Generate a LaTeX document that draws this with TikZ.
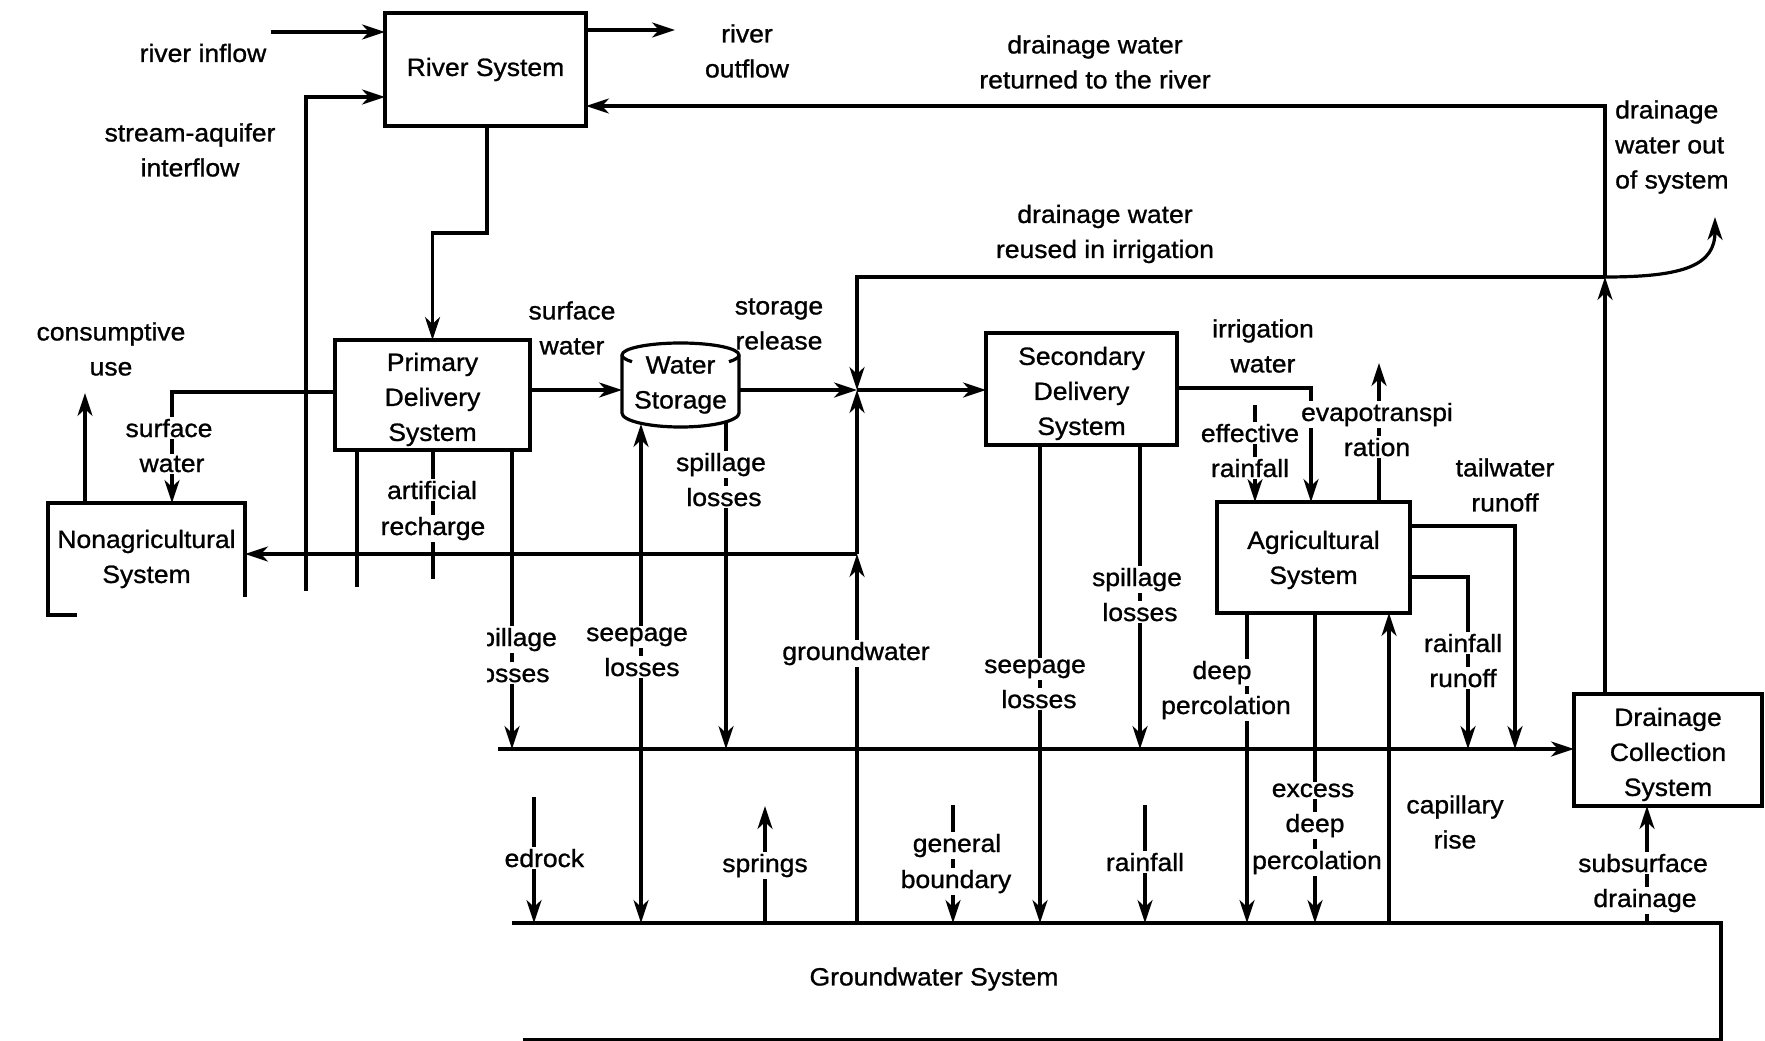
\documentclass[tikz,border=0pt]{standalone}
\usepackage{fontspec}
\setmainfont{Liberation Sans}[FakeStretch=1.06,FakeBold=1]
\usetikzlibrary{arrows.meta,calc}
\newcommand\labfont{\fontsize{25}{35}\selectfont}
\newcommand\tstrutA{\rule{0pt}{27pt}}
\newcommand\tstrutB{\rule{0pt}{23pt}}
\tikzset{
 ln/.style={line width=3.2pt},
 arr/.style={ln, -{Stealth[length=23pt,width=15pt,inset=7pt]}},
 dbl/.style={ln, {Stealth[length=23pt,width=15pt,inset=7pt]}-{Stealth[length=23pt,width=15pt,inset=7pt]}},
 box/.style={draw, line width=3.2pt, inner sep=0pt, outer sep=0pt, align=center, font=\labfont},
 lbl/.style={fill=white, inner sep=1.5pt, font=\labfont, anchor=base},
 txt/.style={inner sep=1pt, align=center, font=\labfont},
}
\begin{document}
\begin{tikzpicture}[x=1pt,y=-1pt]
\useasboundingbox (0,0) rectangle (1765,1041);
% ---------- boxes ----------
\node[box, minimum width=201pt, minimum height=113pt] (river) at (485.5,69.5) {River System};
\node[box, minimum width=195pt, minimum height=110pt] (primary) at (432.5,395) {\tstrutA Primary\\Delivery\\System};
\node[box, minimum width=191pt, minimum height=112pt] (secondary) at (1081.5,389) {\tstrutA Secondary\\Delivery\\System};
\node[box, minimum width=193pt, minimum height=111pt] (agri) at (1313.5,557.5) {\tstrutB Agricultural\\System};
\node[box, minimum width=188pt, minimum height=112pt] (drain) at (1668,750) {\tstrutA Drainage\\Collection\\System};
\node[box, draw=none, minimum width=197pt, minimum height=112pt] (nonagri) at (146.5,559) {Nonagricultural\\System};
\node[box, draw=none, minimum width=117pt, minimum height=84pt] (storage) at (680.5,385) {Water\\Storage};
\node[box, draw=none, minimum width=1209pt, minimum height=117pt] (gw) at (1116.5,981.5) {};
\node[txt] (gwsl) at (934,979) {Groundwater System};
% partial outlines
\draw[ln] (nonagri.south west) ++(29,0) -- (nonagri.south west) -- (nonagri.north west) -- (nonagri.north east) -- ($(nonagri.north east)+(0,94)$);
\draw[ln] (gw.north west) -- (gw.north east) -- (gw.south east) -- ($(gw.south west)+(11,0)$);
% cylinder
\draw[ln] ($(storage.west)+(0,-30)$) -- ($(storage.west)+(0,28)$) arc[start angle=180,end angle=0,x radius=58.5,y radius=14]
  -- ($(storage.east)+(0,-30)$) arc[start angle=0,end angle=-180,x radius=58.5,y radius=12] -- cycle;
\draw[ln] ($(storage.west)+(0,-30)$) arc[start angle=180,end angle=146,x radius=58.5,y radius=12];
\draw[ln] ($(storage.east)+(0,-30)$) arc[start angle=0,end angle=34,x radius=58.5,y radius=12];
% ---------- coordinates ----------
\coordinate (J) at (857,390);
\coordinate (G1) at (857,554);
\coordinate (S0) at (498,749);
\coordinate (D1) at (1605,277);
\coordinate (D2) at (1605,106);
\coordinate (out) at (1715,217);
\coordinate (rin) at (271,32);
\coordinate (rout) at (675,30);
\coordinate (sa0) at (306,591);
\coordinate (sa1) at (306,97);
\coordinate (rp1) at (487,233);
\coordinate (sw) at (172,392);
\coordinate (cu) at (85,393);
\coordinate (pb1) at (357,587);
\coordinate (pb2) at (433,579);
\coordinate (pb3) at (512,749);
\coordinate (sp2t) at (641,424);
\coordinate (spl2t) at (726,422);
\coordinate (sp3) at (1040,923);
\coordinate (spl3) at (1140,749);
\coordinate (iw) at (1311,388);
\coordinate (er) at (1255,405);
\coordinate (et) at (1379,363);
\coordinate (tw) at (1515,526);
\coordinate (rr) at (1468,577);
\coordinate (dp) at (1247,923);
\coordinate (ex) at (1315,923);
\coordinate (cr) at (1389,923);
\coordinate (sd) at (1647,923);
\coordinate (br) at (534,797);
\coordinate (spg) at (765,806);
\coordinate (gb) at (953,805);
\coordinate (rf) at (1145,805);
% ---------- connectors ----------
\draw[arr] (rin) -- (rin -| river.west);
\draw[arr] (sa0) -- (sa1) -- (sa1 -| river.west);
\draw[arr] (river.east |- rout) -- (rout);
\draw[arr] (river.south -| rp1) -- (rp1) -| (primary.north);
\draw[arr] (primary.west |- sw) -- (sw) -- (sw |- nonagri.north);
\draw[arr] (cu |- nonagri.north) -- (cu);
\draw[arr] (primary.east |- J) -- (storage.west |- J);
\draw[arr] (storage.east |- J) -- (J);
\draw[arr] (J) -- (secondary.west |- J);
\draw[arr] (J |- gw.north) -- (G1);
\draw[arr] (G1) -- (J);
\draw[arr] (G1) -- (G1 -| nonagri.east);
\draw[ln] (pb1 |- primary.south) -- (pb1);
\draw[ln] (pb2 |- primary.south) -- (pb2);
\draw[arr] (pb3 |- primary.south) -- (pb3);
\draw[dbl] (sp2t) -- (sp2t |- gw.north);
\draw[arr] (spl2t) -- (spl2t |- S0);
\draw[arr] (sp3 |- secondary.south) -- (sp3 |- gw.north);
\draw[arr] (spl3 |- secondary.south) -- (spl3);
\draw[arr] (S0) -- (S0 -| drain.west);
\draw[arr] (secondary.east |- iw) -- (iw) -- (iw |- agri.north);
\draw[arr] (er) -- (er |- agri.north);
\draw[arr] (et |- agri.north) -- (et);
\draw[arr] (agri.east |- tw) -- (tw) -- (tw |- S0);
\draw[arr] (agri.east |- rr) -- (rr) -- (rr |- S0);
\draw[arr] (dp |- agri.south) -- (dp |- gw.north);
\draw[arr] (ex |- agri.south) -- (ex |- gw.north);
\draw[arr] (cr |- gw.north) -- (cr |- agri.south);
\draw[arr] (sd |- gw.north) -- (sd |- drain.south);
\draw[arr] (D1 |- drain.north) -- (D1);
\draw[arr] (D1) -- (D2) -- (D2 -| river.east);
\draw[arr] (D1) -- (J |- D1) -- (J);
\draw[arr] (D1) .. controls (1685,277) and (1715,265) .. (out);
\draw[arr] (br) -- (br |- gw.north);
\draw[arr] (spg |- gw.north) -- (spg);
\draw[arr] (gb) -- (gb |- gw.north);
\draw[arr] (rf) -- (rf |- gw.north);
% ---------- free labels ----------
\node[txt] (rinl) at (203,53) {river inflow};
\node[txt] (sal) at (190,150) {stream-aquifer\\interflow};
\node[txt] (routl) at (747,51) {river\\outflow};
\node[txt] (drrl) at (1095,62) {drainage water\\returned to the river};
\node[txt] (drul) at (1105,234) {drainage water\\reused in irrigation};
\node[txt, align=left, anchor=west] (drol) at (1614,147) {drainage\\water out\\of system};
\node[txt] (cul) at (111,349) {consumptive\\use};
\node[txt] (swl) at (572,328) {surface\\water};
\node[txt] (srl) at (779,324) {storage\\release};
\node[txt] (iwl) at (1263,346) {irrigation\\water};
\node[txt] (twl) at (1505,485) {tailwater\\runoff};
\node[txt] (crl) at (1455,822) {capillary\\rise};
% ---------- labels on lines ----------
\node[lbl] (swa) at (169,437) {surface};
\node[lbl] (swb) at (172,472) {water};
\node[lbl] (ara) at (432,499) {artificial};
\node[lbl] (arb) at (433,535) {recharge};
\begin{scope}
\clip (487,600) rectangle (600,700);
\node[lbl] (spla) at (512,646) {spillage};
\node[lbl] (splb) at (512,682) {losses};
\end{scope}
\node[lbl] (sp2a) at (637,641) {seepage};
\node[lbl] (sp2b) at (642,676) {losses};
\node[lbl] (spl2a) at (721,471) {spillage};
\node[lbl] (spl2b) at (724,506) {losses};
\node[lbl] (gwl) at (856,660) {groundwater};
\node[lbl] (sp3a) at (1035,673) {seepage};
\node[lbl] (sp3b) at (1039,708) {losses};
\node[lbl] (spl3a) at (1137,586) {spillage};
\node[lbl] (spl3b) at (1140,621) {losses};
\node[lbl] (efa) at (1250,442) {effective};
\node[lbl] (efb) at (1250,477) {rainfall};
\node[lbl] (eta) at (1377,421) {evapotranspi};
\node[lbl] (etb) at (1377,456) {ration};
\node[lbl] (dpa) at (1222,679) {deep};
\node[lbl] (dpb) at (1226,714) {percolation};
\node[lbl] (rra) at (1463,652) {rainfall};
\node[lbl] (rrb) at (1463,687) {runoff};
\node[lbl] (exa) at (1313,797) {excess};
\node[lbl] (exb) at (1315,832) {deep};
\node[lbl] (exc) at (1317,869) {percolation};
\begin{scope}
\clip (505,820) rectangle (620,900);
\node[lbl] (bra) at (537,867) {bedrock};
\end{scope}
\node[lbl] (spr) at (765,872) {springs};
\node[lbl] (gba) at (957,852) {general};
\node[lbl] (gbb) at (956,888) {boundary};
\node[lbl] (rfl) at (1145,871) {rainfall};
\node[lbl] (sda) at (1643,872) {subsurface};
\node[lbl] (sdb) at (1645,907) {drainage};
\end{tikzpicture}
\end{document}
